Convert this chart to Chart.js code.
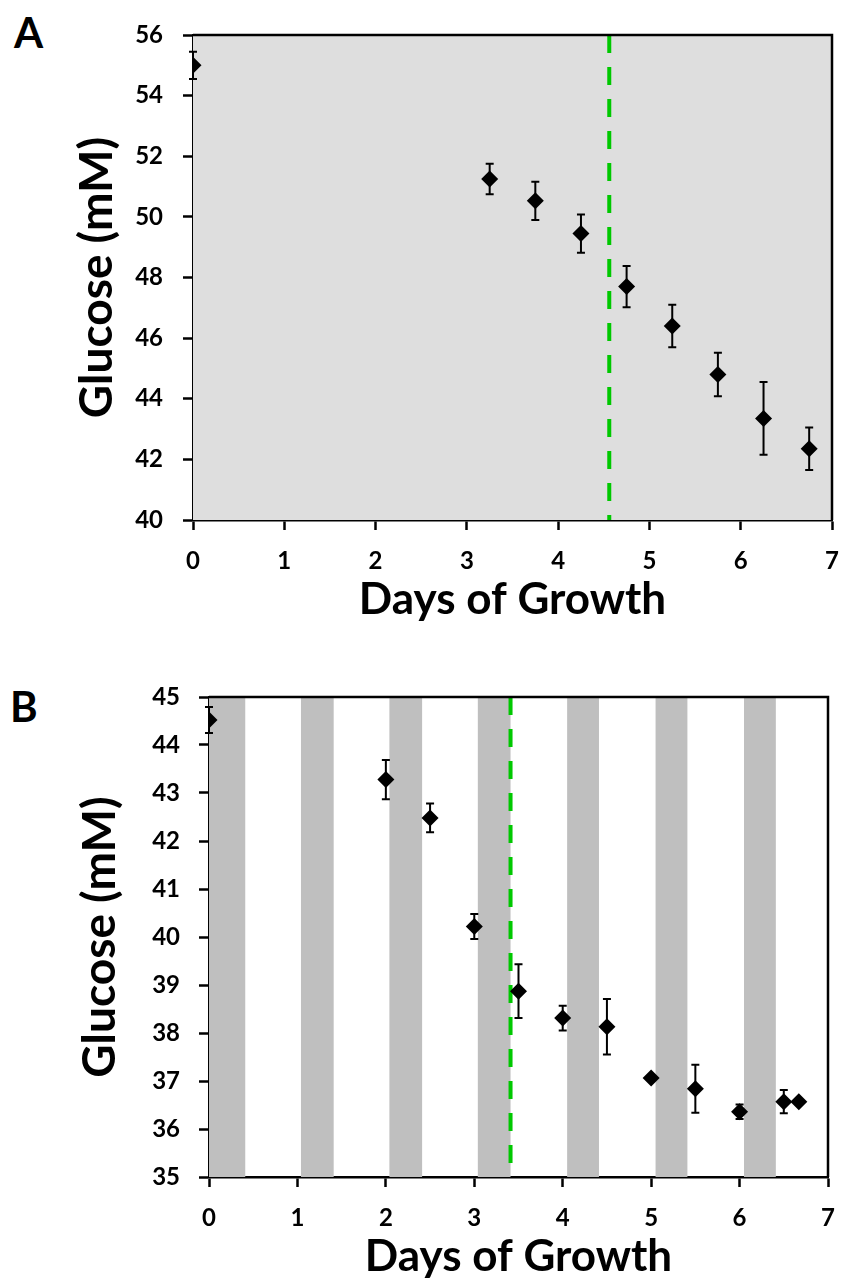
<!DOCTYPE html>
<html>
<head>
<meta charset="utf-8">
<script src="https://cdn.jsdelivr.net/npm/chart.js@4.4.1/dist/chart.umd.min.js"></script>
<style>
  body { margin: 0; background: #fff; width: 842px; height: 1278px; position: relative; overflow: hidden; }
  canvas { position: absolute; left: 0; }
  .painel { position: absolute; font: bold 42px Lato, sans-serif; line-height: 1; color: #000; }
</style>
</head>
<body>
<div class="painel" style="left:14px; top:11px;">A</div>
<div class="painel" style="left:10px; top:685px;">B</div>
<canvas id="graficoA" width="842" height="640" style="top:0px"></canvas>
<canvas id="graficoB" width="842" height="650" style="top:638px"></canvas>
<script>
// Dados do painel A (fundo cinza)
const diasA = [0, 3.25, 3.75, 4.25, 4.75, 5.25, 5.75, 6.25, 6.75];
const glicoseA = [55.0, 51.25, 50.53, 49.45, 47.7, 46.4, 44.8, 43.35, 42.35];
const erroA = [0.45, 0.5, 0.63, 0.63, 0.68, 0.7, 0.72, 1.2, 0.7];
const marcoA = 4.56;

// Dados do painel B (faixas claro/escuro)
const diasB = [0, 2, 2.5, 3, 3.5, 4, 4.5, 5, 5.5, 6, 6.5, 6.67];
const glicoseB = [44.52, 43.28, 42.48, 40.22, 38.87, 38.31, 38.13, 37.06, 36.84, 36.36, 36.57, 36.57];
const erroB = [0.27, 0.41, 0.3, 0.26, 0.56, 0.26, 0.58, 0.05, 0.5, 0.15, 0.24, 0];
const marcoB = 3.41;
const faixaInicio = [0, 1.04, 2.04, 3.04, 4.05, 5.05, 6.05];
const faixaFim = [0.41, 1.41, 2.41, 3.41, 4.41, 5.41, 6.41];

Chart.defaults.font.family = 'Lato, sans-serif';
Chart.defaults.color = '#000';

// Plugin: fundo da área, barras de erro e moldura
const extras = {
  id: 'extras',
  beforeDatasetsDraw(chart, args, opts) {
    const { ctx, chartArea: a, scales: { x, y } } = chart;
    ctx.save();
    if (opts.fundo) {
      ctx.fillStyle = opts.fundo;
      ctx.fillRect(a.left, a.top, a.right - a.left, a.bottom - a.top);
    }
    if (opts.faixas) {
      ctx.fillStyle = '#bfbfbf';
      opts.faixas[0].forEach((ini, i) => {
        const x0 = x.getPixelForValue(ini);
        const x1 = x.getPixelForValue(opts.faixas[1][i]);
        ctx.fillRect(x0, a.top, x1 - x0, a.bottom - a.top);
      });
    }
    // barras de erro
    const pts = chart.data.datasets[0].data;
    ctx.strokeStyle = '#000';
    ctx.lineWidth = 2;
    opts.erros.forEach((e, i) => {
      if (!e) return;
      const px = x.getPixelForValue(pts[i].x);
      const yt = y.getPixelForValue(pts[i].y + e);
      const yb = y.getPixelForValue(pts[i].y - e);
      ctx.beginPath();
      ctx.moveTo(px, yt); ctx.lineTo(px, yb);
      ctx.moveTo(px - 4, yt); ctx.lineTo(px + 4, yt);
      ctx.moveTo(px - 4, yb); ctx.lineTo(px + 4, yb);
      ctx.stroke();
    });
    ctx.restore();
  },
  afterDraw(chart) {
    const { ctx, chartArea: a } = chart;
    ctx.save();
    ctx.strokeStyle = '#000';
    ctx.lineWidth = 2.5;
    ctx.beginPath();
    ctx.moveTo(a.left, a.top);
    ctx.lineTo(a.right, a.top);
    ctx.lineTo(a.right, a.bottom);
    ctx.stroke();
    ctx.restore();
  }
};

function grafico(id, dias, glicose, erros, marco, yMin, yMax, yPasso, cfg) {
  const ctx = document.getElementById(id).getContext('2d');
  const pontos = dias.map((d, i) => ({ x: d, y: glicose[i] }));

  return new Chart(ctx, {
    type: 'scatter',
    data: {
      datasets: [{
        data: pontos,
        pointStyle: 'rectRot',
        pointRadius: 8.5,
        backgroundColor: '#000',
        borderColor: '#000',
        borderWidth: 0
      }, {
        type: 'line',
        data: [{ x: marco, y: yMax }, { x: marco, y: yMin }],
        borderColor: '#00c800',
        borderWidth: 4,
        borderDash: [18, 14],
        pointRadius: 0
      }]
    },
    options: {
      responsive: false,
      animation: false,
      devicePixelRatio: 1,
      layout: { padding: { left: 0, top: cfg.topo, right: cfg.direita, bottom: cfg.baixo } },
      scales: {
        x: {
          type: 'linear',
          min: 0, max: 7,
          afterFit: s => { s.height = 106; s.paddingLeft = 0; s.paddingRight = 0; },
          ticks: { stepSize: 1, padding: 17, font: { size: 24, weight: 'bold' }, color: '#000' },
          grid: { drawOnChartArea: false, drawTicks: true, tickLength: 10, tickWidth: 2.5, color: '#000' },
          border: { display: true, color: '#000', width: 2.5 },
          title: { display: true, text: 'Days of Growth', padding: { top: 0, bottom: 0 },
                   font: { size: 44, weight: 'bold', lineHeight: 1.2 }, color: '#000' }
        },
        y: {
          min: yMin, max: yMax,
          afterFit: s => { s.width = cfg.esquerda; },
          ticks: { stepSize: yPasso, padding: cfg.padTick, font: { size: 24, weight: 'bold' }, color: '#000' },
          grid: { drawOnChartArea: false, drawTicks: true, tickLength: 10, tickWidth: 2.5, color: '#000' },
          border: { display: true, color: '#000', width: 2.5 },
          title: { display: true, text: 'Glucose (mM)', padding: { top: cfg.padTitulo, bottom: 0 },
                   font: { size: 46, weight: 'bold', lineHeight: 1.2 }, color: '#000' }
        }
      },
      plugins: {
        legend: { display: false },
        tooltip: { enabled: false },
        extras: { fundo: cfg.fundo, faixas: cfg.faixas, erros: erros }
      }
    },
    plugins: [extras]
  });
}

grafico('graficoA', diasA, glicoseA, erroA, marcoA, 40, 56, 2,
  { topo: 35, direita: 10, baixo: 14, esquerda: 193, padTick: 20, padTitulo: 70, fundo: '#dedede' });

grafico('graficoB', diasB, glicoseB, erroB, marcoB, 35, 45, 1,
  { topo: 59, direita: 14, baixo: 5, esquerda: 209, padTick: 19, padTitulo: 73,
    faixas: [faixaInicio, faixaFim] });
</script>
</body>
</html>
